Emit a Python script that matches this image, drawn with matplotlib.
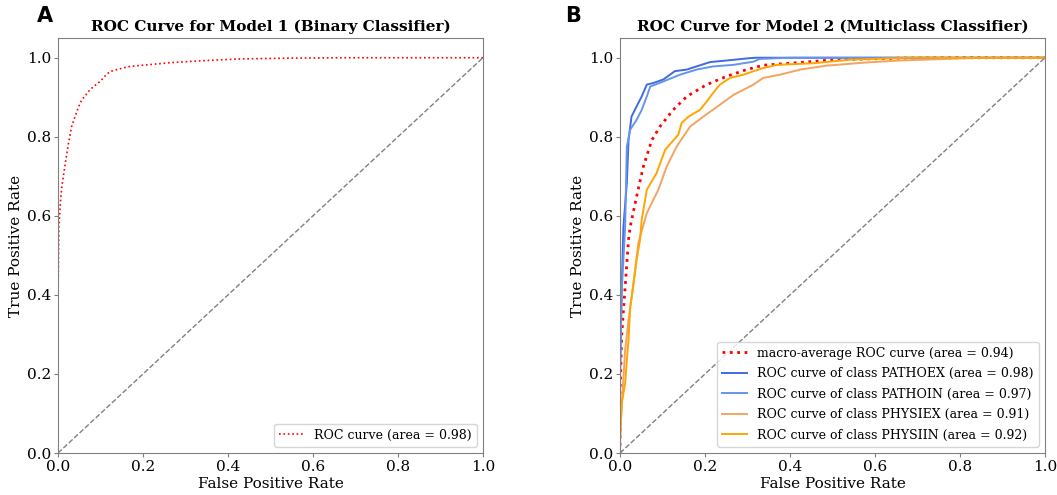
import numpy as np
import matplotlib.pyplot as plt

plt.rcParams['font.family'] = 'DejaVu Serif'

# Model 1 (binary) ROC curve
fpr_bin = [0.0, 0.0, 0.002, 0.006, 0.009, 0.016, 0.024, 0.032, 0.04, 0.048, 0.056,
           0.065, 0.075, 0.087, 0.099, 0.11, 0.122, 0.145, 0.169, 0.209, 0.27,
           0.35, 0.428, 0.55, 0.68, 1.0]
tpr_bin = [0.0, 0.4, 0.573, 0.64, 0.674, 0.725, 0.78, 0.826, 0.851, 0.875, 0.894,
           0.905, 0.919, 0.93, 0.94, 0.953, 0.965, 0.972, 0.978, 0.982, 0.988,
           0.993, 0.997, 0.999, 1.0, 1.0]
auc_bin = 0.98

# Model 2 (multiclass) ROC curves
fpr_macro = [0.0, 0.0, 0.004, 0.012, 0.02, 0.024, 0.039, 0.055, 0.075, 0.094, 0.125,
             0.157, 0.204, 0.251, 0.298, 0.337, 0.424, 0.502, 0.659, 0.8, 1.0]
tpr_macro = [0.0, 0.15, 0.3, 0.42, 0.54, 0.573, 0.649, 0.725, 0.792, 0.826, 0.868,
             0.902, 0.932, 0.953, 0.97, 0.981, 0.988, 0.995, 0.999, 1.0, 1.0]

fpr_pathoex = [0.0, 0.0, 0.004, 0.008, 0.016, 0.02, 0.027, 0.039, 0.051, 0.063, 0.078,
               0.102, 0.129, 0.157, 0.18, 0.212, 0.251, 0.306, 0.32, 1.0]
tpr_pathoex = [0.0, 0.2, 0.421, 0.573, 0.683, 0.792, 0.851, 0.877, 0.902, 0.932, 0.936,
               0.945, 0.966, 0.97, 0.978, 0.989, 0.993, 0.999, 1.0, 1.0]

fpr_pathoin = [0.0, 0.0, 0.004, 0.012, 0.016, 0.024, 0.039, 0.051, 0.063, 0.071, 0.102,
               0.141, 0.18, 0.219, 0.267, 0.314, 0.329, 0.4, 1.0]
tpr_pathoin = [0.0, 0.2, 0.41, 0.573, 0.775, 0.818, 0.843, 0.868, 0.902, 0.927, 0.94,
               0.957, 0.97, 0.978, 0.982, 0.99, 0.997, 1.0, 1.0]

fpr_physiex = [0.0, 0.0, 0.004, 0.012, 0.02, 0.031, 0.043, 0.063, 0.09, 0.11, 0.133,
               0.165, 0.196, 0.235, 0.267, 0.314, 0.337, 0.376, 0.424, 0.486, 0.58,
               0.659, 0.85, 1.0]
tpr_physiex = [0.0, 0.03, 0.12, 0.26, 0.337, 0.421, 0.531, 0.607, 0.666, 0.725, 0.775,
               0.826, 0.851, 0.881, 0.906, 0.932, 0.949, 0.957, 0.97, 0.98, 0.988,
               0.993, 1.0, 1.0]

fpr_physiin = [0.0, 0.0, 0.004, 0.012, 0.016, 0.02, 0.024, 0.039, 0.047, 0.051, 0.063,
               0.086, 0.106, 0.137, 0.145, 0.161, 0.188, 0.204, 0.219, 0.235, 0.259,
               0.29, 0.337, 0.369, 0.455, 0.541, 0.68, 1.0]
tpr_physiin = [0.0, 0.033, 0.126, 0.176, 0.235, 0.286, 0.37, 0.489, 0.539, 0.59, 0.666,
               0.708, 0.767, 0.805, 0.835, 0.851, 0.868, 0.889, 0.911, 0.932, 0.949,
               0.957, 0.974, 0.982, 0.986, 0.995, 1.0, 1.0]

class_names = ['PATHOEX', 'PATHOIN', 'PHYSIEX', 'PHYSIIN']
class_auc = [0.98, 0.97, 0.91, 0.92]
class_fpr = [fpr_pathoex, fpr_pathoin, fpr_physiex, fpr_physiin]
class_tpr = [tpr_pathoex, tpr_pathoin, tpr_physiex, tpr_physiin]
class_colors = ['royalblue', 'cornflowerblue', 'sandybrown', 'orange']
macro_auc = 0.94

fig = plt.figure(figsize=(10.57, 4.95), dpi=100)
ax1 = fig.add_axes([0.0549, 0.0848, 0.402, 0.8385])
ax2 = fig.add_axes([0.5866, 0.0848, 0.402, 0.8385])

# panel A
ax1.plot(fpr_bin, tpr_bin, color='red', linestyle=':', lw=1.2,
         label='ROC curve (area = %0.2f)' % auc_bin)
ax1.plot([0, 1], [0, 1], color='gray', linestyle='--', lw=1)
ax1.set_title('ROC Curve for Model 1 (Binary Classifier)', fontweight='bold',
              fontsize=11, pad=5)

# panel B
ax2.plot(fpr_macro, tpr_macro, color='red', linestyle=':', lw=2,
         label='macro-average ROC curve (area = %0.2f)' % macro_auc)
for name, a, f, t, c in zip(class_names, class_auc, class_fpr, class_tpr, class_colors):
    ax2.plot(f, t, color=c, lw=1.4, label='ROC curve of class %s (area = %0.2f)' % (name, a))
ax2.plot([0, 1], [0, 1], color='gray', linestyle='--', lw=1)
ax2.set_title('ROC Curve for Model 2 (Multiclass Classifier)', fontweight='bold',
              fontsize=11, pad=5)

for ax in (ax1, ax2):
    ax.set_xlim(0, 1.0)
    ax.set_ylim(0, 1.05)
    ax.set_xlabel('False Positive Rate', fontsize=11, labelpad=2)
    ax.set_ylabel('True Positive Rate', fontsize=11, labelpad=3)
    ax.tick_params(labelsize=11, color='gray', length=3, pad=2)
    for s in ax.spines.values():
        s.set_color('gray')
    ax.legend(loc='lower right', fontsize=9, labelspacing=0.6)

fig.text(0.035, 0.955, 'A', fontsize=15, fontweight='bold', family='DejaVu Sans')
fig.text(0.535, 0.955, 'B', fontsize=15, fontweight='bold', family='DejaVu Sans')

fig.savefig('out.png', dpi=100)
